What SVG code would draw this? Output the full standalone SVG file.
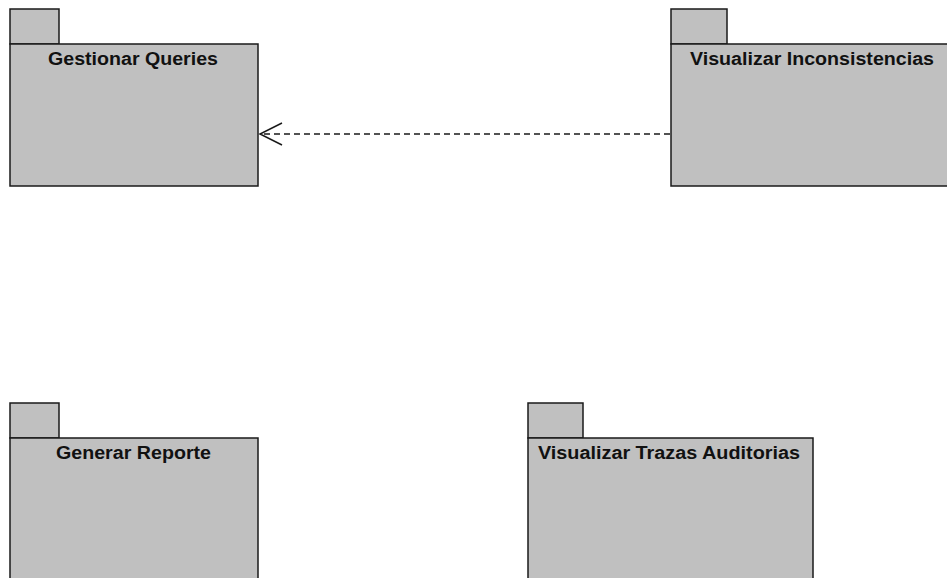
<svg xmlns="http://www.w3.org/2000/svg" width="947" height="578" viewBox="0 0 947 578">
  <style>
    .pkg { fill: #c0c0c0; stroke: #1a1a1a; stroke-width: 1.5; }
    .lbl { font-family: "Liberation Sans", Arial, sans-serif; font-weight: bold; font-size: 18px; fill: #111; text-anchor: middle; }
    .dep { fill: none; stroke: #1a1a1a; stroke-width: 1.3; }
  </style>
  <defs>
    <!-- open arrowhead; tip at the end of the path -->
    <marker id="open-arrow" markerUnits="userSpaceOnUse" markerWidth="30" markerHeight="30" refX="23" refY="12" orient="auto">
      <path d="M1,1 L23,12 L1,23" fill="none" stroke="#1a1a1a" stroke-width="1.5"/>
    </marker>
  </defs>
  <rect width="947" height="578" fill="#ffffff"/>

  <g id="pkg-gestionar-queries">
    <rect class="pkg" x="10" y="9" width="49" height="35"/>
    <rect class="pkg" x="10" y="44" width="248" height="142"/>
    <text class="lbl" x="133" y="65" textLength="170" lengthAdjust="spacingAndGlyphs">Gestionar Queries</text>
  </g>

  <g id="pkg-visualizar-inconsistencias">
    <rect class="pkg" x="671" y="9" width="56" height="35"/>
    <rect class="pkg" x="671" y="44" width="290" height="142"/>
    <text class="lbl" x="812" y="65" textLength="244" lengthAdjust="spacingAndGlyphs">Visualizar Inconsistencias</text>
  </g>

  <g id="pkg-generar-reporte">
    <rect class="pkg" x="10" y="403" width="49" height="35"/>
    <rect class="pkg" x="10" y="438" width="248" height="150"/>
    <text class="lbl" x="133.5" y="459" textLength="155" lengthAdjust="spacingAndGlyphs">Generar Reporte</text>
  </g>

  <g id="pkg-visualizar-trazas">
    <rect class="pkg" x="528" y="403" width="55" height="35"/>
    <rect class="pkg" x="528" y="438" width="285" height="150"/>
    <text class="lbl" x="669" y="459" textLength="262" lengthAdjust="spacingAndGlyphs">Visualizar Trazas Auditorias</text>
  </g>

  <g id="connectors">
    <line class="dep" x1="670" y1="134" x2="260" y2="134" stroke-dasharray="6,4" marker-end="url(#open-arrow)"/>
  </g>
</svg>
